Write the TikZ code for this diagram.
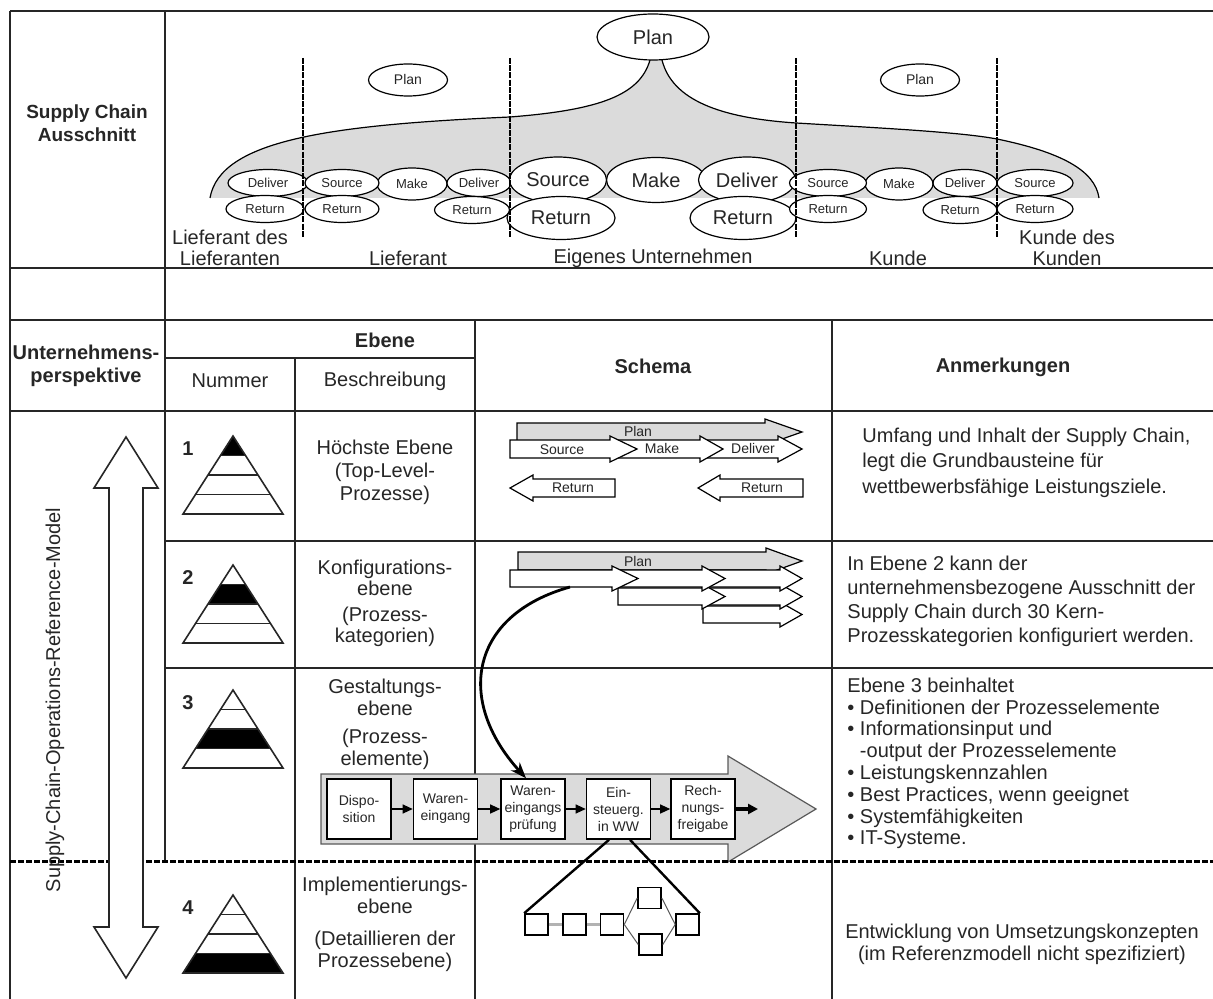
\documentclass[tikz,border=0pt]{standalone}
\usepackage{fontspec}
\setmainfont{Liberation Sans}
\usepackage{tikz}
\usetikzlibrary{arrows.meta}
\usetikzlibrary{shapes.geometric, calc}

\tikzset{
  linie/.style={line width=0.8pt, black!85},
  ell/.style={ellipse, draw, fill=white, inner sep=0pt, line width=0.6pt, minimum height=13.5pt, font=\fontsize{6.5}{7}\selectfont},
  grossell/.style={ellipse, draw, fill=white, inner sep=0pt, line width=0.6pt, font=\fontsize{10}{11}\selectfont},
  kopf/.style={font=\bfseries\fontsize{10}{11.5}\selectfont, align=center},
  pfeil/.style={draw, line width=0.6pt, fill=white},
  klein/.style={font=\fontsize{7}{8}\selectfont},
  kasten/.style={draw, fill=white, line width=0.8pt, minimum width=32pt, minimum height=30pt, inner sep=0pt, align=center, font=\fontsize{7}{8.5}\selectfont},
  quadrat/.style={draw, fill=white, line width=0.8pt, minimum width=11.5pt, minimum height=10.5pt, inner sep=0pt},
}

% Blockpfeil nach rechts: [Stil] Anfang, Schaftende, Spitze, oben, unten
\newcommand{\pfeilR}[6][]{%
  \draw[pfeil,#1] (#2,#5) -- (#3,#5) -- (#3,{#5-4}) -- (#4,{(#5+#6)/2}) -- (#3,{#6+4}) -- (#3,#6) -- (#2,#6) -- cycle;}
% Blockpfeil nach links: Spitze, Schaftanfang, Ende, oben, unten
\newcommand{\pfeilL}[5]{%
  \draw[pfeil] (#3,#4) -- (#2,#4) -- (#2,{#4-4}) -- (#1,{(#4+#5)/2}) -- (#2,{#5+4}) -- (#2,#5) -- (#3,#5) -- cycle;}

\begin{document}
\begin{tikzpicture}[x=0.5pt, y=-0.5pt, font=\fontsize{10}{11.5}\selectfont, text=black!85]
        \useasboundingbox (0,0) rectangle (1213,999);

        % Graue Planungsfläche der Supply Chain
        \fill[gray!28] (210,198) .. controls (220,140) and (330,125) .. (510,117)
            .. controls (600,110) and (640,95) .. (650,60) -- (662,60)
            .. controls (672,100) and (720,118) .. (796,123)
            .. controls (880,128) and (960,132) .. (997,139)
            .. controls (1060,152) and (1095,170) .. (1099,198) -- cycle;
        \draw[line width=0.6pt] (210,198) .. controls (220,140) and (330,125) .. (510,117)
            .. controls (600,110) and (640,95) .. (650,60);
        \draw[line width=0.6pt] (662,60) .. controls (672,100) and (720,118) .. (796,123)
            .. controls (880,128) and (960,132) .. (997,139)
            .. controls (1060,152) and (1095,170) .. (1099,198);

        % Plan-Ellipsen
        \node[grossell, minimum width=56pt, minimum height=23pt] (plan) at (653,37) {Plan};
        \node[ell, minimum width=39.5pt, minimum height=16pt, font=\fontsize{7}{8}\selectfont] (planL) at (408,80) {Plan};
        \node[ell, minimum width=39.5pt, minimum height=16pt, font=\fontsize{7}{8}\selectfont] (planK) at (920,80) {Plan};

        % Lieferant des Lieferanten
        \node[ell, minimum width=40pt] (llDeliver) at (268,183) {Deliver};
        \node[ell, minimum width=39pt] (llReturn) at (265,209) {Return};
        % Lieferant
        \node[ell, minimum width=35pt, minimum height=16pt] (lMake) at (412,184) {Make};
        \node[ell, minimum width=37pt] (lSource) at (342,183) {Source};
        \node[ell, minimum width=32pt] (lDeliver) at (479,183) {Deliver};
        \node[ell, minimum width=37pt] (lReturnA) at (342,209) {Return};
        \node[ell, minimum width=37.5pt] (lReturnB) at (472,210) {Return};
        % Eigenes Unternehmen
        \node[grossell, minimum width=49.5pt, minimum height=22.5pt] (eMake) at (656,180) {Make};
        \node[grossell, minimum width=48.5pt, minimum height=23pt] (eSource) at (558,180) {Source};
        \node[grossell, minimum width=48.5pt, minimum height=23pt] (eDeliver) at (747,180) {Deliver};
        \node[grossell, minimum width=54pt, minimum height=21.5pt] (eReturnA) at (561,218) {Return};
        \node[grossell, minimum width=53pt, minimum height=21.5pt] (eReturnB) at (743,218) {Return};
        % Kunde
        \node[ell, minimum width=34pt, minimum height=16pt] (kMake) at (899,184) {Make};
        \node[ell, minimum width=38.5pt] (kSource) at (828,183) {Source};
        \node[ell, minimum width=32pt] (kDeliver) at (965,183) {Deliver};
        \node[ell, minimum width=38.5pt] (kReturnA) at (828,209) {Return};
        \node[ell, minimum width=37pt] (kReturnB) at (960,210) {Return};
        % Kunde des Kunden
        \node[ell, minimum width=38pt] (kkSource) at (1035,183) {Source};
        \node[ell, minimum width=38pt] (kkReturn) at (1035,209) {Return};

        % Grenzen zwischen den Unternehmen
        \foreach \x in {303,510,796,997}
            \draw[line width=1.1pt, dash pattern=on 3pt off 0.6pt] (\x,58) -- (\x,237);

        \node[align=center, font=\fontsize{10}{10.5}\selectfont] (ll) at (230,247.5) {Lieferant des\\Lieferanten};
        \node (lief) at (408,258) {Lieferant};
        \node (eigen) at (653,258) {Eigenes Unternehmen};
        \node (kunde) at (898,258) {Kunde};
        \node[align=center, font=\fontsize{10}{10.5}\selectfont] (kk) at (1067,247.5) {Kunde des\\Kunden};

        % Tabellenlinien
        \draw[linie] (10,11) -- (1213,11);
        \draw[linie] (10,268) -- (1213,268);
        \draw[linie] (10,320) -- (1213,320);
        \draw[linie] (165,358) -- (475,358);
        \draw[linie] (10,411) -- (1213,411);
        \draw[linie] (165,541) -- (1213,541);
        \draw[linie] (165,668) -- (1213,668);
        \draw[linie] (10,11) -- (10,999);
        \draw[linie] (165,11) -- (165,861);
        \draw[linie] (295,358) -- (295,999);
        \draw[linie] (475,320) -- (475,999);
        \draw[linie] (832,320) -- (832,999);

        % Kopfzeilen
        \node[kopf, font=\bfseries\fontsize{9.5}{11.5}\selectfont] (sca) at (87,123) {Supply Chain\\Ausschnitt};
        \node[kopf] (up) at (86,366) {Unternehmens-\\perspektive};
        \node[kopf] (ebene) at (385,340) {Ebene};
        \node (nummer) at (230,381) {Nummer};
        \node (beschreibung) at (385,381) {Beschreibung};
        \node[kopf] (schema) at (653,366) {Schema};
        \node[kopf] (anmerkungen) at (1003,367) {Anmerkungen};

        % Pyramiden der vier Ebenen
        \foreach \k/\ay in {1/436,2/565,3/690,4/895} {
            \begin{scope}[shift={(233,\ay)}]
                \pgfmathsetmacro\wa{12.5*(\k-1)}
                \pgfmathsetmacro\wb{12.5*\k}
                \pgfmathsetmacro\ya{19.5*(\k-1)}
                \pgfmathsetmacro\yb{19.5*\k}
                \fill (-\wa,\ya) -- (\wa,\ya) -- (\wb,\yb) -- (-\wb,\yb) -- cycle;
                \draw[linie] (0,0) -- (-50,78) -- (50,78) -- cycle;
                \foreach \i in {1,2,3}
                    \draw[linie] (-12.5*\i,19.5*\i) -- (12.5*\i,19.5*\i);
                \node[font=\bfseries\fontsize{10}{11}\selectfont] (nr\k) at (-45,13) {\k};
            \end{scope}
        }

        % Beschreibungen
        \node[align=center] (beschr1) at (385,472) {Höchste Ebene\\(Top-Level-\\Prozesse)};
        \node[align=center, font=\fontsize{10}{10.5}\selectfont] (beschr2) at (385,603) {Konfigurations-\\ebene\\[2.5pt](Prozess-\\kategorien)};
        \node[align=center, font=\fontsize{10}{11}\selectfont] (beschr3) at (385,724) {Gestaltungs-\\ebene\\[3pt](Prozess-\\elemente)};
        \node[align=center, font=\fontsize{10}{11}\selectfont] (beschr4) at (385,924) {Implementierungs-\\ebene\\[5pt](Detaillieren der\\Prozessebene)};

        % Schema Ebene 1
        \pfeilR[fill=gray!28]{517}{765}{802}{423}{441}
        \pfeilR{700}{778}{802}{440}{458}
        \pfeilR{610}{700}{723}{440}{458}
        \pfeilR{510}{610}{637}{440}{458}
        \node[klein] (s1plan) at (638,431) {Plan};
        \node[klein] (s1source) at (562,450) {Source};
        \node[klein] (s1make) at (662,448) {Make};
        \node[klein] (s1deliver) at (753,448) {Deliver};
        \pfeilL{510}{533}{615}{479}{497}
        \pfeilL{698}{720}{803}{479}{497}
        \node[klein] (s1returnA) at (573,488) {Return};
        \node[klein] (s1returnB) at (762,488) {Return};

        % Schema Ebene 2
        \pfeilR[fill=gray!28]{518}{766}{802}{552}{570}
        \pfeilR{703}{780}{802}{606}{623}
        \pfeilR{702}{780}{802}{588}{605}
        \pfeilR{618}{702}{725}{588}{605}
        \pfeilR{702}{780}{802}{570}{587}
        \pfeilR{612}{702}{725}{570}{587}
        \pfeilR{510}{612}{638}{570}{587}
        \node[klein] (s2plan) at (638,561) {Plan};

        % Schema Ebene 3: Prozesselemente
        \draw[line width=0.6pt, draw=gray!70!black, fill=gray!28] (321,774) -- (728,774) -- (728,756)
            -- (816,809) -- (728,862) -- (728,844) -- (321,844) -- cycle;
        \node[kasten] (b1) at (359,809) {Dispo-\\sition};
        \node[kasten] (b2) at (445.5,809) {Waren-\\eingang};
        \node[kasten] (b3) at (533,809) {Waren-\\eingangs\\prüfung};
        \node[kasten] (b4) at (618.5,809) {Ein-\\steuerg.\\in WW};
        \node[kasten] (b5) at (703,809) {Rech-\\nungs-\\freigabe};
        \foreach \a/\b in {b1/b2,b2/b3,b3/b4,b4/b5}
            \draw[line width=0.6pt, -{Triangle[length=5pt,width=4.5pt]}] (\a) -- (\b);
        \coordinate (ausgang) at (758,809);
        \draw[line width=1.6pt, -{Triangle[length=5pt,width=5pt]}] (b5) -- (ausgang);

        % Verweis von Ebene 2 auf Ebene 3
        \coordinate (kurvenstart) at (570,587);
        \draw[line width=1.4pt, -{Stealth[length=8pt,width=6pt]}] (kurvenstart)
            .. controls (470,615) and (455,700) .. ([xshift=-3.5pt]b3.north);

        % Schema Ebene 4
        \node[quadrat] (q1) at (536.5,924.5) {};
        \node[quadrat] (q2) at (574.5,924.5) {};
        \node[quadrat] (q3) at (612,924.5) {};
        \node[quadrat] (q4) at (649.5,898) {};
        \node[quadrat] (q5) at (650.5,944.5) {};
        \node[quadrat] (q6) at (687.5,924.5) {};
        \draw[gray!60, line width=1.5pt] (q1) -- (q2);
        \draw[gray!60, line width=1.5pt] (q2) -- (q3);
        \draw[gray!70!black, line width=0.5pt] (q3.east) -- (q4.west);
        \draw[gray!70!black, line width=0.5pt] (q3.east) -- (q5.west);
        \draw[gray!70!black, line width=0.5pt] (q4.east) -- (q6.west);
        \draw[gray!70!black, line width=0.5pt] (q5.east) -- (q6.west);
        \draw[line width=1.2pt] ($(b4.south)+(-9.5,0)$) -- (q1.north west);
        \draw[line width=1.2pt] ($(b4.south)+(11.5,0)$) -- (q6.north east);

        % Grenze zwischen Referenzmodell und Implementierung
        \draw[line width=1.5pt, dash pattern=on 3pt off 1pt] (10,861) -- (1213,861);

        % Doppelpfeil SCOR
        \draw[linie, fill=white] (126,437) -- (158,488) -- (143,488) -- (143,927) -- (158,927)
            -- (126,978) -- (94,927) -- (109,927) -- (109,488) -- (94,488) -- cycle;
        \node[rotate=90] (scor) at (55,700) {Supply-Chain-Operations-Reference-Model};

        % Anmerkungen
        \node[anchor=west, align=left, inner sep=0pt, font=\fontsize{10}{12.7}\selectfont] (anm1) at (862,462.5)
            {Umfang und Inhalt der Supply Chain,\\legt die Grundbausteine für\\wettbewerbsfähige Leistungsziele.};
        \node[anchor=west, align=left, inner sep=0pt, font=\fontsize{10}{12}\selectfont] (anm2) at (847,601)
            {In Ebene 2 kann der\\unternehmensbezogene Ausschnitt der\\Supply Chain durch 30 Kern-\\Prozesskategorien konfiguriert werden.};
        \node[anchor=west, align=left, inner sep=0pt, font=\fontsize{10}{10.9}\selectfont] (anm3) at (847,763.5)
            {Ebene 3 beinhaltet\\• Definitionen der Prozesselemente\\• Informationsinput und\\\phantom{• }-output der Prozesselemente\\• Leistungskennzahlen\\• Best Practices, wenn geeignet\\• Systemfähigkeiten\\• IT-Systeme.};
        \node[align=center, font=\fontsize{10}{11}\selectfont] (anm4) at (1022,944)
            {Entwicklung von Umsetzungskonzepten\\(im Referenzmodell nicht spezifiziert)};
\end{tikzpicture}
\end{document}
